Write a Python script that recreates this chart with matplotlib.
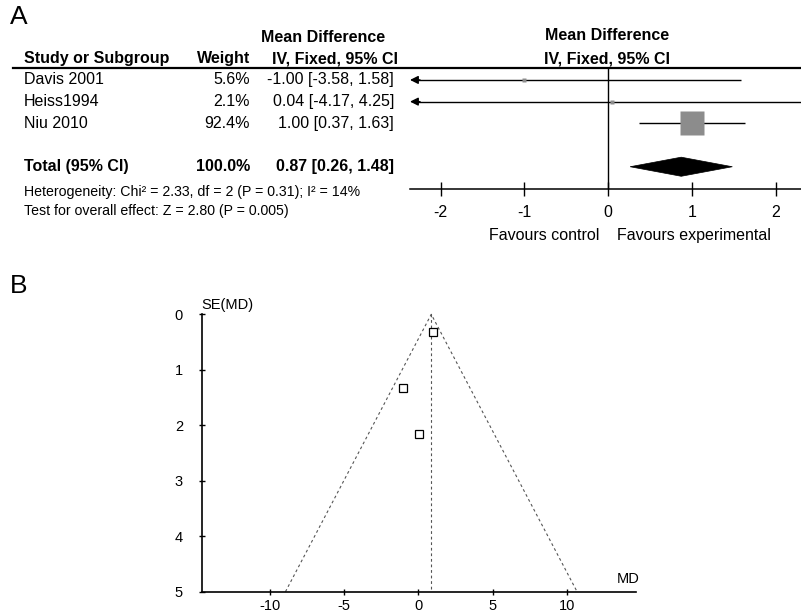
import numpy as np
import matplotlib
matplotlib.use('Agg')
import matplotlib.pyplot as plt
import matplotlib.transforms as mtransforms
from matplotlib.lines import Line2D
from matplotlib.patches import Polygon

plt.rcParams['font.family'] = ['Liberation Sans', 'DejaVu Sans']
plt.rcParams['axes.unicode_minus'] = False

# Data
studies = ['Davis 2001', 'Heiss1994', 'Niu 2010']
weights = [5.6, 2.1, 92.4]
md = [-1.00, 0.04, 1.00]
ci_low = [-3.58, -4.17, 0.37]
ci_high = [1.58, 4.25, 1.63]
se_md = [1.32, 2.15, 0.32]
total_md, total_low, total_high = 0.87, 0.26, 1.48
total_weight = 100.0
heterogeneity = 'Heterogeneity: Chi\u00b2 = 2.33, df = 2 (P = 0.31); I\u00b2 = 14%'
overall_effect = 'Test for overall effect: Z = 2.80 (P = 0.005)'
forest_ticks = [-2, -1, 0, 1, 2]
funnel_xticks = [-10, -5, 0, 5, 10]
funnel_yticks = [0, 1, 2, 3, 4, 5]

W, H = 801, 616
fig = plt.figure(figsize=(W / 100, H / 100), dpi=100)


def fx(px):
    return px / W


def fy(py):
    return 1 - py / H


FS = 11.5

# Panel A: forest plot
ax = fig.add_axes([fx(410), fy(189.3), (W - 410) / W, (189.3 - 68) / H])
ax.set_xlim(-2.366, 2.299)
ax.set_ylim(5.04, -0.55)
for s in ['top', 'left', 'right']:
    ax.spines[s].set_visible(False)
ax.spines['bottom'].set_linewidth(1.1)
ax.set_yticks([])
ax.set_xticks(forest_ticks)
ax.set_xticklabels([str(t) for t in forest_ticks])
ax.tick_params(axis='x', direction='inout', length=10, width=1, labelsize=FS, pad=6)
ax.axvline(0, color='black', lw=1)

xmin, xmax = ax.get_xlim()
rows = [0, 1, 2]
total_row = 4
for y, w, m, lo, hi in zip(rows, weights, md, ci_low, ci_high):
    x0 = max(lo, xmin)
    x1 = min(hi, xmax)
    ax.plot([x0 + (0.05 if lo < xmin else 0), x1], [y, y], color='black', lw=1.0,
            solid_capstyle='butt', clip_on=False)
    if lo < xmin:
        ax.annotate('', xy=(xmin, y), xytext=(xmin + 0.12, y),
                    arrowprops=dict(arrowstyle='-|>', color='black', lw=1.0,
                                    mutation_scale=12, shrinkA=0, shrinkB=0))
    side = max(4.5, 24 * np.sqrt(w / max(weights)) * 0.8 if w < 50 else 24)
    ax.plot(m, y, marker='s', ms=side * 0.72, color='#8c8c8c', mec='none')

h = 0.44
ax.add_patch(Polygon([(total_low, total_row), (total_md, total_row - h),
                      (total_high, total_row), (total_md, total_row + h)],
                     closed=True, facecolor='black', edgecolor='black', lw=0.5))

# table texts
fig.add_artist(Line2D([fx(13), 1], [fy(68), fy(68)], color='black', lw=1.6))
trans = mtransforms.blended_transform_factory(fig.transFigure, ax.transData)

fig.text(fx(10), fy(17), 'A', fontsize=19, ha='left', va='center')
fig.text(fx(323), fy(38), 'Mean Difference', fontsize=FS, fontweight='bold', ha='center', va='center')
fig.text(fx(24), fy(59), 'Study or Subgroup', fontsize=FS, fontweight='bold', ha='left', va='center')
fig.text(fx(250), fy(59), 'Weight', fontsize=FS, fontweight='bold', ha='right', va='center')
fig.text(fx(398), fy(59), 'IV, Fixed, 95% CI', fontsize=FS, fontweight='bold', ha='right', va='center')
fig.text(fx(607), fy(36), 'Mean Difference', fontsize=FS, fontweight='bold', ha='center', va='center')
fig.text(fx(607), fy(59), 'IV, Fixed, 95% CI', fontsize=FS, fontweight='bold', ha='center', va='center')

for y, name, w, m, lo, hi in zip(rows, studies, weights, md, ci_low, ci_high):
    ax.text(fx(24), y, name, transform=trans, fontsize=FS, ha='left', va='center')
    ax.text(fx(250), y, f'{w:.1f}%', transform=trans, fontsize=FS, ha='right', va='center')
    ax.text(fx(394), y, f'{m:.2f} [{lo:.2f}, {hi:.2f}]', transform=trans, fontsize=FS, ha='right', va='center')

ax.text(fx(24), total_row, 'Total (95% CI)', transform=trans, fontsize=FS, fontweight='bold', ha='left', va='center')
ax.text(fx(250), total_row, f'{total_weight:.1f}%', transform=trans, fontsize=FS, fontweight='bold', ha='right', va='center')
ax.text(fx(394), total_row, f'{total_md:.2f} [{total_low:.2f}, {total_high:.2f}]', transform=trans,
        fontsize=FS, fontweight='bold', ha='right', va='center')

fig.text(fx(24), fy(192), heterogeneity, fontsize=10.2, ha='left', va='center')
fig.text(fx(24), fy(211), overall_effect, fontsize=10.2, ha='left', va='center')
fig.text(fx(599), fy(235), 'Favours control', fontsize=FS, ha='right', va='center')
fig.text(fx(617), fy(235), 'Favours experimental', fontsize=FS, ha='left', va='center')

# Panel B: funnel plot
fig.text(fx(10), fy(286), 'B', fontsize=19, ha='left', va='center')
ax2 = fig.add_axes([fx(201.7), fy(591.7), (635.7 - 201.7) / W, (591.7 - 314.3) / H])
ax2.set_xlim(-14.56, 14.61)
ax2.set_ylim(5, 0)
for s in ['top', 'right']:
    ax2.spines[s].set_visible(False)
for s in ['left', 'bottom']:
    ax2.spines[s].set_linewidth(1.2)
ax2.set_xticks(funnel_xticks)
ax2.set_yticks(funnel_yticks)
ax2.tick_params(axis='x', direction='inout', length=5, width=1, labelsize=10.5, pad=3)
ax2.tick_params(axis='y', direction='inout', length=5, width=1, labelsize=10.5, pad=11)

se_max = funnel_yticks[-1]
dash = (0, (2.5, 2.5))
ax2.plot([total_md - 1.96 * se_max, total_md, total_md + 1.96 * se_max], [se_max, 0, se_max],
         ls=dash, color='#555555', lw=0.8, clip_on=False)
ax2.plot([total_md, total_md], [0, se_max], ls=dash, color='#555555', lw=0.8)
ax2.plot(md, se_md, ls='none', marker='s', ms=5.2, mfc='white', mec='black', mew=0.9, clip_on=False)

ax2.text(0.0, 1.034, 'SE(MD)', transform=ax2.transAxes, fontsize=10.5, ha='left', va='center')
ax2.text(13.35, 4.77, 'MD', fontsize=10.5, ha='left', va='center')

fig.savefig('out.png', dpi=100)
